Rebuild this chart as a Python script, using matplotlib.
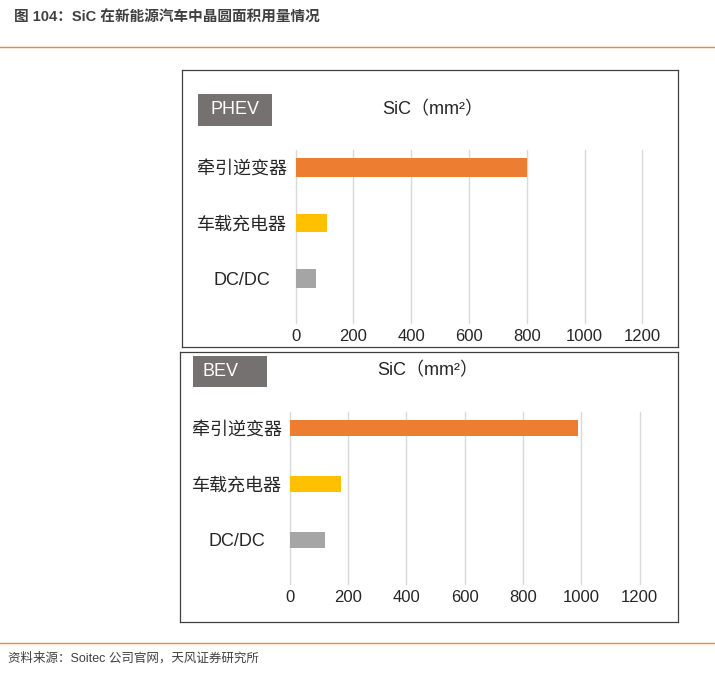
import matplotlib.pyplot as plt
from matplotlib.patches import Rectangle

plt.rcParams['font.family'] = ['Liberation Sans', 'Noto Sans CJK SC', 'DejaVu Sans']

W, H = 715, 673

categories = ["牵引逆变器", "车载充电器", "DC/DC"]
phev_values = [800, 110, 70]
bev_values = [990, 175, 120]
bar_colors = ["#ED7D31", "#FFC000", "#A5A5A5"]
x_ticks = [0, 200, 400, 600, 800, 1000, 1200]

fig_title = "图 104：SiC 在新能源汽车中晶圆面积用量情况"
source_text = "资料来源：Soitec 公司官网，天风证券研究所"
unit_title = "SiC（mm²）"

fig = plt.figure(figsize=(W / 100, H / 100), dpi=100)


def px_axes(x0, y0, x1, y1, **kw):
    return fig.add_axes([x0 / W, 1 - y1 / H, (x1 - x0) / W, (y1 - y0) / H], **kw)


# header and footer
fig.text(14 / W, 1 - 18 / H, fig_title, fontsize=10.5, fontweight="bold",
         color="#404040", va="center", ha="left")
fig.add_artist(plt.Line2D([0, 1], [1 - 47 / H, 1 - 47 / H], color="#E8883A", lw=1))
fig.add_artist(plt.Line2D([0, 1], [1 - 643 / H, 1 - 643 / H], color="#E8883A", lw=1))
fig.text(8 / W, 1 - 658 / H, source_text, fontsize=9, color="#404040",
         va="center", ha="left")


def panel(frame, tag, tag_box, tag_xy, tag_ha, title_xy, plot_rect, values,
          top_m, bot_m, bar_h, label_pad):
    fx0, fy0, fx1, fy1 = frame
    fa = px_axes(fx0, fy0, fx1, fy1)
    fa.set_xlim(fx0, fx1)
    fa.set_ylim(fy1, fy0)
    fa.set_xticks([])
    fa.set_yticks([])
    for s in fa.spines.values():
        s.set_color("#404040")
        s.set_linewidth(0.9)
    bx0, by0, bx1, by1 = tag_box
    fa.add_patch(Rectangle((bx0, by0), bx1 - bx0, by1 - by0, color="#767171", lw=0))
    fa.text(tag_xy[0], tag_xy[1], tag, color="white", fontsize=13,
            ha=tag_ha, va="center")
    fa.text(title_xy[0], title_xy[1], unit_title, color="#262626", fontsize=13,
            ha="center", va="center")

    ax = px_axes(*plot_rect)
    ax.patch.set_alpha(0)
    ypos = list(range(len(categories)))
    ax.barh(ypos, values, height=bar_h, color=bar_colors, zorder=3)
    ax.set_xlim(0, 1200)
    ax.set_ylim(len(categories) - 1 + bot_m, -top_m)
    ax.set_xticks(x_ticks)
    ax.set_xticklabels([str(t) for t in x_ticks], fontsize=12, color="#262626")
    ax.set_yticks(ypos)
    ax.set_yticklabels(categories, fontsize=13, color="#262626", ha="center")
    ax.tick_params(axis="x", length=0, pad=4)
    ax.tick_params(axis="y", length=0, pad=label_pad)
    ax.grid(axis="x", color="#D9D9D9", lw=1, zorder=0)
    for line in ax.get_xgridlines():
        line.set_clip_on(False)
    for s in ax.spines.values():
        s.set_visible(False)


panel(frame=(182, 70, 678, 347), tag="PHEV", tag_box=(198, 94, 272, 126),
      tag_xy=(235, 110), tag_ha="center", title_xy=(433, 110),
      plot_rect=(295.7, 150, 642.3, 323), values=phev_values,
      top_m=0.315, bot_m=0.8, bar_h=0.33, label_pad=39)

panel(frame=(180, 352, 678, 622), tag="BEV", tag_box=(193, 356, 267, 387),
      tag_xy=(202, 371.5), tag_ha="left", title_xy=(428, 371),
      plot_rect=(289.7, 412, 639.7, 584), values=bev_values,
      top_m=0.286, bot_m=0.786, bar_h=0.3, label_pad=38)

fig.savefig("out.png", dpi=100)
